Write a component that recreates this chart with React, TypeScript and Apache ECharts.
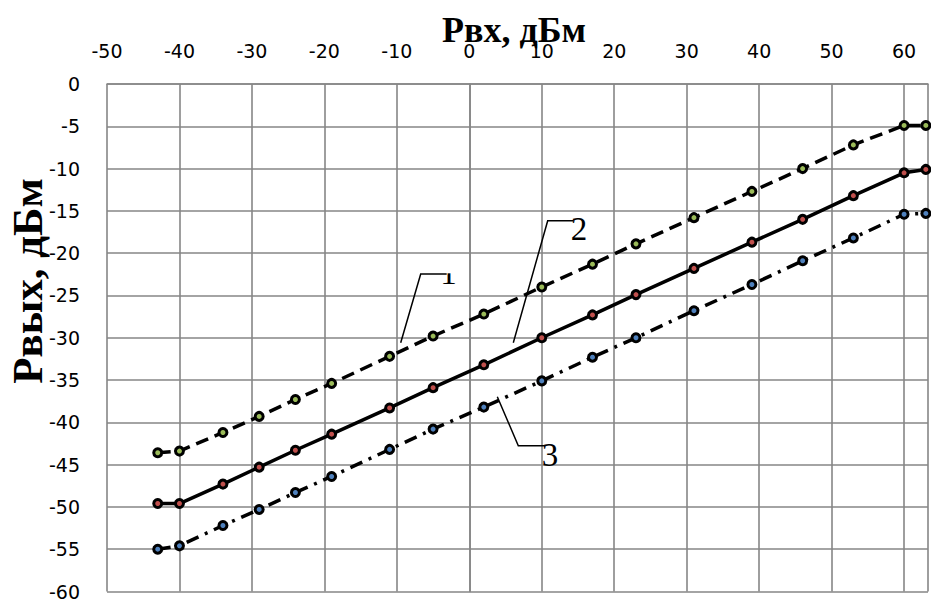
import React, { useEffect, useRef } from "react";
import * as echarts from "echarts";

// Data
const xValues = [-43, -40, -34, -29, -24, -19, -11, -5, 2, 10, 17, 23, 31, 39, 46, 53, 60, 63];
const curve1 = [-43.6, -43.4, -41.2, -39.3, -37.3, -35.4, -32.2, -29.8, -27.2, -24.0, -21.3, -18.9, -15.8, -12.7, -10.0, -7.2, -4.9, -4.9];
const curve2 = [-49.6, -49.6, -47.3, -45.3, -43.3, -41.4, -38.3, -35.9, -33.2, -30.0, -27.3, -24.9, -21.8, -18.7, -16.0, -13.2, -10.5, -10.1];
const curve3 = [-55.0, -54.6, -52.2, -50.3, -48.3, -46.4, -43.2, -40.8, -38.2, -35.1, -32.3, -30.0, -26.8, -23.7, -20.9, -18.2, -15.4, -15.3];
const curveNames = ["1", "2", "3"];
const xTitle = "Рвх, дБм";
const yTitle = "Рвых, дБм";

const W = 931;
const H = 601;

export default function App() {
  const ref = useRef<HTMLDivElement>(null);
  useEffect(() => {
    if (!ref.current) return;
    const chart = echarts.init(ref.current, undefined, { renderer: "svg" });
    const grid = "#868686";
    const labelFont = { color: "#000", fontSize: 19, fontFamily: "DejaVu Sans" };
    const mk = (vals: number[], fill: string, dash: any, name: string) => ({
      type: "line",
      name,
      data: xValues.map((x, i) => [x, vals[i]]),
      symbol: "circle",
      symbolSize: 8,
      showSymbol: true,
      itemStyle: { color: fill, borderColor: "#000", borderWidth: 3 },
      lineStyle: { color: "#000", width: 3.5, type: dash, cap: "butt" },
      emphasis: { disabled: true },
      z: 3,
    });
    const serif = "Liberation Serif";
    chart.setOption({
      animation: false,
      grid: { left: 107, top: 84, right: 0, bottom: 7, containLabel: false },
      xAxis: {
        type: "value",
        position: "top",
        min: -50,
        max: 63.3,
        interval: 10,
        axisLine: { show: true, lineStyle: { color: grid, width: 1.6 } },
        axisTick: { show: false },
        axisLabel: {
          ...labelFont,
          margin: 24,
          formatter: (v: number) => (Math.abs(v % 10) < 1e-9 ? String(v) : ""),
        },
        splitLine: { show: true, lineStyle: { color: grid, width: 1.6 } },
      },
      yAxis: {
        type: "value",
        min: -60,
        max: 0,
        interval: 5,
        axisLine: { show: true, lineStyle: { color: grid, width: 1.6 } },
        axisTick: { show: false },
        axisLabel: { ...labelFont, margin: 27 },
        splitLine: { show: true, lineStyle: { color: grid, width: 1.6 } },
      },
      series: [
        mk(curve1, "#9bbb59", [13, 7], curveNames[0]),
        mk(curve2, "#c0504d", "solid", curveNames[1]),
        mk(curve3, "#4f81bd", [13, 7, 3, 7], curveNames[2]),
      ],
      graphic: [
        {
          type: "text",
          x: 514,
          y: 30,
          style: { text: xTitle, fontSize: 36, fontWeight: "bold", fontFamily: serif, fill: "#000", align: "center", verticalAlign: "middle" },
        },
        {
          type: "text",
          x: 27,
          y: 281,
          rotation: Math.PI / 2,
          style: { text: yTitle, fontSize: 43, fontWeight: "bold", fontFamily: serif, fill: "#000", align: "center", verticalAlign: "middle" },
        },
        {
          type: "text",
          x: 448.5,
          y: 272.5,
          z: 10,
          style: { text: curveNames[0], fontSize: 33, fontFamily: serif, fill: "#000", align: "center", verticalAlign: "middle" },
        },
        {
          type: "rect",
          z: 11,
          shape: { x: 439, y: 255, width: 20, height: 18.3 },
          style: { fill: "#fff" },
        },
        {
          type: "text",
          x: 579,
          y: 228.5,
          z: 10,
          style: { text: curveNames[1], fontSize: 33, fontFamily: serif, fill: "#000", align: "center", verticalAlign: "middle" },
        },
        {
          type: "text",
          x: 550,
          y: 454.5,
          z: 10,
          style: { text: curveNames[2], fontSize: 33, fontFamily: serif, fill: "#000", align: "center", verticalAlign: "middle" },
        },
        {
          type: "polyline",
          z: 12,
          shape: { points: [[400.7, 342.7], [420.7, 274], [446.7, 274]] },
          style: { stroke: "#000", lineWidth: 1.5, fill: null },
        },
        {
          type: "polyline",
          z: 12,
          shape: { points: [[513.3, 342.7], [547.7, 220.7], [573.3, 220.7]] },
          style: { stroke: "#000", lineWidth: 1.5, fill: null },
        },
        {
          type: "polyline",
          z: 12,
          shape: { points: [[497.3, 396.7], [518.3, 445.7], [545, 445.7]] },
          style: { stroke: "#000", lineWidth: 1.5, fill: null },
        },
      ],
    });
    return () => chart.dispose();
  }, []);
  return (
    <div
      ref={ref}
      style={{ position: "fixed", left: 0, top: 0, width: W, height: H, background: "#fff" }}
    />
  );
}
